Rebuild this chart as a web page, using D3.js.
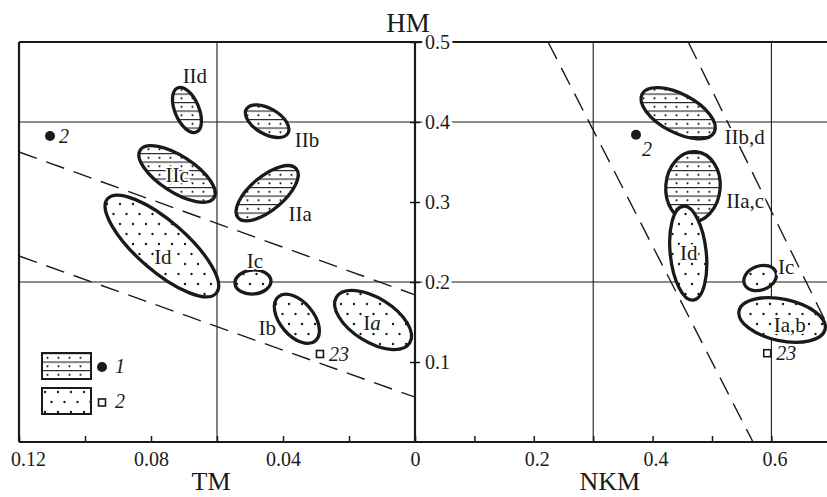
<!DOCTYPE html>
<html>
<head>
<meta charset="utf-8">
<script src="https://cdn.jsdelivr.net/npm/d3@7"></script>
<style>
  body { margin: 0; background: #fff; }
  svg { display: block; }
  text { font-family: "Liberation Serif", "Times New Roman", serif; fill: #1a1a1a; }
</style>
</head>
<body>
<div id="chart"></div>
<script>
// tick labels
var tmTicks = [0.12, 0.10, 0.08, 0.06, 0.04, 0.02, 0];
var tmLabels = [0.12, 0.08, 0.04, 0];
var nkmTicks = [0.1, 0.2, 0.3, 0.4, 0.5, 0.6];
var nkmLabels = [0.2, 0.4, 0.6];
var hmTicks = [0.1, 0.2, 0.3, 0.4, 0.5];

// fields: name, x, HM, semi-major, semi-minor (HM units), tilt deg, group
var tmFields = [
  ["IId", 0.0691, 0.415, 0.030, 0.015, 67, "II"],
  ["IIb", 0.0448, 0.401, 0.030, 0.016, 30, "II"],
  ["IIc", 0.0721, 0.335, 0.055, 0.0225, 33, "II"],
  ["IIa", 0.0448, 0.311, 0.0475, 0.021, -40, "II"],
  ["Id", 0.0767, 0.245, 0.090, 0.031, 41, "I"],
  ["Ic", 0.0491, 0.200, 0.0225, 0.015, -5, "I"],
  ["Ib", 0.0358, 0.154, 0.036, 0.021, 50, "I"],
  ["Ia", 0.0127, 0.1525, 0.054, 0.0275, 32, "I"]
];
var nkmFields = [
  ["IIb,d", 0.443, 0.411, 0.051, 0.024, 28, "II"],
  ["IIa,c", 0.468, 0.319, 0.044, 0.034, 95, "II"],
  ["Id", 0.460, 0.236, 0.059, 0.0225, 84, "I"],
  ["Ic", 0.581, 0.205, 0.021, 0.015, -20, "I"],
  ["Ia,b", 0.618, 0.1525, 0.055, 0.026, 12, "I"]
];

// field labels: text, x, HM
var tmFieldLabels = [
  ["IId", 0.0667, 0.4575], ["IIb", 0.0327, 0.3775], ["IIc", 0.0721, 0.334],
  ["IIa", 0.0348, 0.285], ["Id", 0.0764, 0.231], ["Ic", 0.0485, 0.226],
  ["Ib", 0.0448, 0.1425], ["Ia", 0.0130, 0.149]
];
var nkmFieldLabels = [
  ["IIb,d", 0.555, 0.381], ["IIa,c", 0.556, 0.301], ["Id", 0.461, 0.236],
  ["Ic", 0.625, 0.219], ["Ia,b", 0.631, 0.146]
];

// single samples: label, x, HM, kind
var tmPoints = [["2", 0.1106, 0.3825, "circle"], ["23", 0.0288, 0.110, "square"]];
var nkmPoints = [["2", 0.372, 0.384, "circle"], ["23", 0.593, 0.111, "square"]];

// dashed boundaries: x1, HM1, x2, HM2
var tmBounds = [[0.12, 0.3625, 0, 0.184], [0.12, 0.2325, 0, 0.056]];
var nkmBounds = [[0.224, 0.5, 0.569, 0], [0.46, 0.5, 0.6936, 0.147]];

var tmGrid = [0.06];
var nkmGrid = [0.3, 0.6];
var hmGrid = [0.2, 0.4];

var legendItems = [["1", "hatch", "circle"], ["2", "dots", "square"]];

var W = 827, H = 497,
    x0 = 19, xMid = 415, x1 = 827, y0 = 42, y1 = 442,
    ink = "#1a1a1a";

var xL = d3.scaleLinear().domain([0.12, 0]).range([x0, xMid]);
var xR = d3.scaleLinear().domain([0, 0.6936]).range([xMid, x1]);
var y = d3.scaleLinear().domain([0, 0.5]).range([y1, y0]);

var svg = d3.select("#chart").append("svg")
  .attr("width", W)
  .attr("height", H);

var defs = svg.append("defs");
var hatch = defs.append("pattern").attr("id", "hatch")
  .attr("patternUnits", "userSpaceOnUse").attr("width", 11).attr("height", 8.5);
hatch.append("rect").attr("width", 11).attr("height", 8.5).attr("fill", "#fff");
hatch.append("line").attr("x1", 0).attr("x2", 11).attr("y1", 0.6).attr("y2", 0.6)
  .attr("stroke", ink).attr("stroke-width", 1.1);
hatch.append("circle").attr("cx", 5.5).attr("cy", 4.8).attr("r", 1.1).attr("fill", ink);

var dots = defs.append("pattern").attr("id", "dots")
  .attr("patternUnits", "userSpaceOnUse").attr("width", 13).attr("height", 20);
dots.append("rect").attr("width", 13).attr("height", 20).attr("fill", "#fff");
dots.append("circle").attr("cx", 3).attr("cy", 4).attr("r", 1.2).attr("fill", ink);
dots.append("circle").attr("cx", 9.5).attr("cy", 14).attr("r", 1.2).attr("fill", ink);

// grid
var grid = svg.append("g").attr("stroke", ink).attr("stroke-width", 1.1);
grid.selectAll(".hg").data(hmGrid).enter().append("line")
  .attr("x1", x0).attr("x2", x1)
  .attr("y1", function(d) { return y(d); }).attr("y2", function(d) { return y(d); });
grid.selectAll(".vl").data(tmGrid).enter().append("line")
  .attr("x1", function(d) { return xL(d); }).attr("x2", function(d) { return xL(d); })
  .attr("y1", y0).attr("y2", y1);
grid.selectAll(".vr").data(nkmGrid).enter().append("line")
  .attr("x1", function(d) { return xR(d); }).attr("x2", function(d) { return xR(d); })
  .attr("y1", y0).attr("y2", y1);

// dashed boundaries
function drawBounds(data, x) {
  svg.append("g").selectAll("line").data(data).enter().append("line")
    .attr("x1", function(d) { return x(d[0]); })
    .attr("y1", function(d) { return y(d[1]); })
    .attr("x2", function(d) { return x(d[2]); })
    .attr("y2", function(d) { return y(d[3]); })
    .attr("stroke", ink).attr("stroke-width", 1.4)
    .attr("stroke-dasharray", "19,10");
}
drawBounds(tmBounds, xL);
drawBounds(nkmBounds, xR);

// frame
var frame = svg.append("g").attr("stroke", ink).attr("stroke-width", 2.2).attr("fill", "none");
frame.append("line").attr("x1", x0).attr("x2", x1).attr("y1", y0).attr("y2", y0);
frame.append("line").attr("x1", x0).attr("x2", x1).attr("y1", y1).attr("y2", y1);
frame.append("line").attr("x1", x0).attr("x2", x0).attr("y1", y0).attr("y2", y1);
frame.append("line").attr("x1", xMid).attr("x2", xMid).attr("y1", y0).attr("y2", y1);

// x axes (ticks point inward)
function xAxis(x, ticks, labels) {
  var fmt = function(d) {
    var hit = labels.some(function(l) { return Math.abs(l - d) < 1e-9; });
    return hit ? (d === 0 ? "0" : String(+d.toFixed(2))) : "";
  };
  var g = svg.append("g")
    .attr("transform", "translate(0," + y1 + ")")
    .call(d3.axisBottom(x).tickValues(ticks).tickSize(-6).tickPadding(10).tickFormat(fmt));
  g.select(".domain").remove();
  g.selectAll("line").attr("stroke", ink).attr("stroke-width", 1.5);
  g.selectAll("text").attr("font-size", 20).style("font-family", "Liberation Serif, serif").attr("fill", ink);
  return g;
}
var gL = xAxis(xL, tmTicks, tmLabels);
gL.selectAll(".tick").filter(function(d) { return d === 0.12; }).select("text").attr("dx", 9);
var gR = xAxis(xR, nkmTicks, nkmLabels);
gR.selectAll(".tick").select("text").attr("dx", 3);

// shared HM axis
var gy = svg.append("g")
  .attr("transform", "translate(" + xMid + ",0)")
  .call(d3.axisRight(y).tickValues(hmTicks).tickSize(5).tickPadding(5)
    .tickFormat(function(d) { return d.toFixed(1); }));
gy.select(".domain").remove();
gy.selectAll("line").attr("x1", -5).attr("stroke", ink).attr("stroke-width", 1.5);
gy.selectAll("text").attr("font-size", 20).style("font-family", "Liberation Serif, serif")
  .attr("fill", ink).attr("stroke", "#fff").attr("stroke-width", 7)
  .attr("paint-order", "stroke").attr("stroke-linejoin", "round");

// fields: arc path keeps the fill pattern upright
function ellipsePath(d, x) {
  var cx = x(d[1]), cy = y(d[2]),
      a = y(0) - y(d[3]), b = y(0) - y(d[4]),
      t = d[5] * Math.PI / 180,
      dx = a * Math.cos(t), dy = a * Math.sin(t);
  return "M" + (cx + dx) + "," + (cy + dy) +
    "A" + a + "," + b + " " + d[5] + " 1 1 " + (cx - dx) + "," + (cy - dy) +
    "A" + a + "," + b + " " + d[5] + " 1 1 " + (cx + dx) + "," + (cy + dy) + "Z";
}
function drawFields(data, x) {
  svg.append("g").selectAll("path").data(data).enter().append("path")
    .attr("d", function(d) { return ellipsePath(d, x); })
    .attr("fill", function(d) { return d[6] === "II" ? "url(#hatch)" : "url(#dots)"; })
    .attr("stroke", ink).attr("stroke-width", 3.3);
}
drawFields(tmFields, xL);
drawFields(nkmFields, xR);

function drawFieldLabels(data, x) {
  var t = svg.append("g").selectAll("text").data(data).enter().append("text")
    .attr("x", function(d) { return x(d[1]); })
    .attr("y", function(d) { return y(d[2]); })
    .attr("text-anchor", "middle")
    .attr("dominant-baseline", "central")
    .attr("font-size", 21)
    .attr("stroke", "#fff").attr("stroke-width", 4)
    .attr("paint-order", "stroke").attr("stroke-linejoin", "round");
  t.each(function(d) {
    var el = d3.select(this);
    if (d[0] === "Ia" && x === xL) {
      el.append("tspan").text("I");
      el.append("tspan").attr("font-style", "italic").text("a");
    } else {
      el.text(d[0]);
    }
  });
}
drawFieldLabels(tmFieldLabels, xL);
drawFieldLabels(nkmFieldLabels, xR);

// single samples
function drawPoints(data, x, panel) {
  var g = svg.append("g");
  data.forEach(function(d) {
    var px = x(d[1]), py = y(d[2]);
    if (d[3] === "circle") {
      g.append("circle").attr("cx", px).attr("cy", py).attr("r", 5).attr("fill", ink);
    } else {
      g.append("rect").attr("x", px - 3.5).attr("y", py - 3.5).attr("width", 7).attr("height", 7)
        .attr("fill", "#fff").attr("stroke", ink).attr("stroke-width", 1.6);
    }
    var below = panel === "R" && d[3] === "circle";
    g.append("text")
      .attr("x", below ? px + 6 : px + 9)
      .attr("y", below ? py + 21 : py + 7)
      .attr("font-size", 20).attr("font-style", "italic")
      .text(d[0]);
  });
}
drawPoints(tmPoints, xL, "L");
drawPoints(nkmPoints, xR, "R");

// legend
var lg = svg.append("g").attr("transform", "translate(42,353)");
legendItems.forEach(function(d, i) {
  var row = lg.append("g").attr("transform", "translate(0," + (i * 35) + ")");
  row.append("rect").attr("width", 49).attr("height", 26)
    .attr("fill", "url(#" + d[1] + ")").attr("stroke", ink).attr("stroke-width", 2);
  if (d[2] === "circle") {
    row.append("circle").attr("cx", 60).attr("cy", 14).attr("r", 5).attr("fill", ink);
  } else {
    row.append("rect").attr("x", 56.5).attr("y", 11).attr("width", 7).attr("height", 7)
      .attr("fill", "#fff").attr("stroke", ink).attr("stroke-width", 1.6);
  }
  row.append("text").attr("x", 73).attr("y", 20).attr("font-size", 20)
    .attr("font-style", "italic").text(d[0]);
});

// axis titles
svg.append("text").attr("x", 408).attr("y", 32).attr("text-anchor", "middle")
  .attr("font-size", 27).text("HM");
svg.append("text").attr("x", xL(0.0618)).attr("y", 490).attr("text-anchor", "middle")
  .attr("font-size", 26).text("TM");
svg.append("text").attr("x", xR(0.328)).attr("y", 490).attr("text-anchor", "middle")
  .attr("font-size", 26).text("NKM");
</script>
</body>
</html>
